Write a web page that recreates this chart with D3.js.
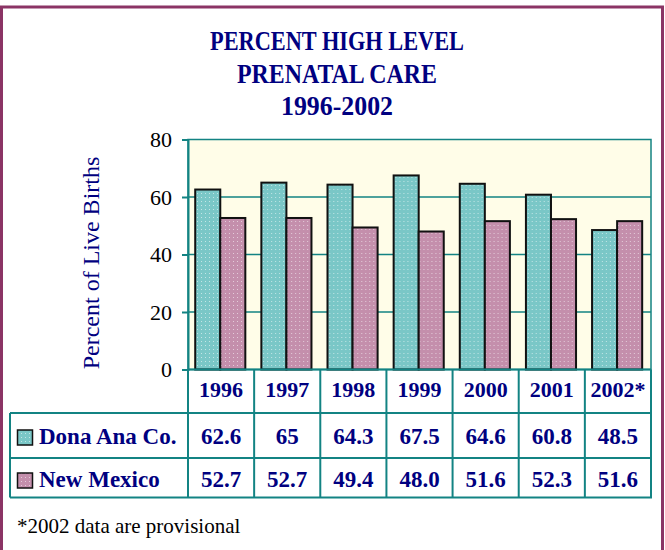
<!DOCTYPE html>
<html>
<head>
<meta charset="utf-8">
<script src="https://cdn.jsdelivr.net/npm/d3@7"></script>
<style>
  body { margin: 0; background: #fff; }
  svg { display: block; }
</style>
</head>
<body>
<svg id="chart" width="665" height="550"></svg>
<script>
// data
var years = ["1996", "1997", "1998", "1999", "2000", "2001", "2002*"];
var donaAna = [62.6, 65, 64.3, 67.5, 64.6, 60.8, 48.5];
var newMexico = [52.7, 52.7, 49.4, 48.0, 51.6, 52.3, 51.6];
var seriesNames = ["Dona Ana Co.", "New Mexico"];
var yTicks = [0, 20, 40, 60, 80];
var titleLines = ["PERCENT HIGH LEVEL", "PRENATAL CARE", "1996-2002"];

var navy = "#000080",
    teal = "#138383",
    frameColor = "#8B3465",
    fills = ["#7AC7C7", "#C48FAC"],
    serif = "'Liberation Serif', 'Times New Roman', serif";

var svg = d3.select("#chart");
var defs = svg.append("defs");

// dotted fills like the old powerpoint pattern
fills.forEach(function(c, i){
  var p = defs.append("pattern")
    .attr("id", "pat" + i)
    .attr("patternUnits", "userSpaceOnUse")
    .attr("width", 4).attr("height", 4);
  p.append("rect").attr("width", 4).attr("height", 4).attr("fill", c);
  p.append("rect").attr("x", 1).attr("y", 1).attr("width", 1).attr("height", 1)
    .attr("fill", "#fff").attr("opacity", 0.55);
});

// outer frame
svg.append("rect")
  .attr("x", 1.5).attr("y", 7)
  .attr("width", 661).attr("height", 570)
  .attr("fill", "#fff")
  .attr("stroke", frameColor)
  .attr("stroke-width", 3);

// title
var titleBase = [50, 83, 115],
    titleWidth = [254, 200, 112];
svg.selectAll(".title")
  .data(titleLines)
  .enter().append("text")
  .attr("class", "title")
  .attr("x", 337)
  .attr("y", function(d, i){ return titleBase[i]; })
  .attr("text-anchor", "middle")
  .attr("textLength", function(d, i){ return titleWidth[i]; })
  .attr("lengthAdjust", "spacingAndGlyphs")
  .style("font-family", serif)
  .style("font-weight", "bold")
  .style("font-size", "27px")
  .attr("fill", navy)
  .text(function(d){ return d; });

var plotL = 188, plotR = 651, plotT = 139.5, plotB = 369.5;

var x0 = d3.scaleBand().domain(years).range([plotL, plotR]);
var x1 = d3.scaleBand().domain(seriesNames).range([0, x0.bandwidth()])
  .paddingInner(0).paddingOuter(0.32).align(0.45);
var y = d3.scaleLinear().domain([0, 80]).range([plotB, plotT]);

// plot area
svg.append("rect")
  .attr("x", plotL).attr("y", plotT)
  .attr("width", plotR - plotL).attr("height", plotB - plotT)
  .attr("fill", "#FFFDE8")
  .attr("stroke", teal)
  .attr("stroke-width", 1.5);

svg.selectAll(".grid")
  .data(yTicks.slice(1, -1))
  .enter().append("line")
  .attr("x1", plotL).attr("x2", plotR)
  .attr("y1", function(d){ return y(d); })
  .attr("y2", function(d){ return y(d); })
  .attr("stroke", teal)
  .attr("stroke-width", 1.5);

// bars
var rows = years.map(function(yr, i){
  return { year: yr, vals: [donaAna[i], newMexico[i]] };
});

var groups = svg.selectAll(".grp")
  .data(rows)
  .enter().append("g")
  .attr("transform", function(d){ return "translate(" + x0(d.year) + ",0)"; });

groups.selectAll("rect")
  .data(function(d){ return d.vals.map(function(v, k){ return { k: k, v: v }; }); })
  .enter().append("rect")
  .attr("x", function(d){ return x1(seriesNames[d.k]); })
  .attr("y", function(d){ return y(d.v); })
  .attr("width", x1.bandwidth())
  .attr("height", function(d){ return y(0) - y(d.v); })
  .attr("fill", function(d){ return "url(#pat" + d.k + ")"; })
  .attr("stroke", "#111")
  .attr("stroke-width", 2);

// y axis
var yAxis = svg.append("g")
  .attr("transform", "translate(" + plotL + ",0)")
  .call(d3.axisLeft(y).tickValues(yTicks).tickSize(6).tickPadding(10));
yAxis.select(".domain").attr("stroke", teal).attr("stroke-width", 2);
yAxis.selectAll(".tick line").attr("stroke", teal).attr("stroke-width", 2);
yAxis.selectAll(".tick text")
  .style("font-family", serif)
  .style("font-size", "22px")
  .attr("fill", "#000");

svg.append("text")
  .attr("transform", "translate(99,263) rotate(-90)")
  .attr("text-anchor", "middle")
  .style("font-family", serif)
  .style("font-size", "24px")
  .attr("fill", navy)
  .text("Percent of Live Births");

// data table under the plot
var tableLeft = 10,
    rowLines = [plotB, 413, 458, 497.5];

var grid = svg.append("g")
  .attr("stroke", teal)
  .attr("stroke-width", 2);

grid.append("line")
  .attr("x1", plotL).attr("x2", plotR)
  .attr("y1", plotB).attr("y2", plotB);
rowLines.slice(1).forEach(function(ry){
  grid.append("line")
    .attr("x1", tableLeft).attr("x2", plotR + 1)
    .attr("y1", ry).attr("y2", ry);
});
grid.append("line")
  .attr("x1", tableLeft).attr("x2", tableLeft)
  .attr("y1", rowLines[1]).attr("y2", rowLines[3]);
years.forEach(function(yr){
  grid.append("line")
    .attr("x1", x0(yr)).attr("x2", x0(yr))
    .attr("y1", plotB).attr("y2", rowLines[3]);
});
grid.append("line")
  .attr("x1", plotR).attr("x2", plotR)
  .attr("y1", plotB).attr("y2", rowLines[3]);

svg.selectAll(".yr")
  .data(years)
  .enter().append("text")
  .attr("x", function(d){ return x0(d) + x0.bandwidth() / 2; })
  .attr("y", 397)
  .attr("text-anchor", "middle")
  .style("font-family", serif)
  .style("font-weight", "bold")
  .style("font-size", "22px")
  .attr("fill", navy)
  .text(function(d){ return d; });

var series = [
  { name: seriesNames[0], vals: donaAna, fmt: function(v){ return String(v); }, base: 444 },
  { name: seriesNames[1], vals: newMexico, fmt: function(v){ return v.toFixed(1); }, base: 487 }
];

series.forEach(function(s, i){
  svg.append("rect")
    .attr("x", 17.5).attr("y", s.base - 14)
    .attr("width", 15).attr("height", 15)
    .attr("fill", "url(#pat" + i + ")")
    .attr("stroke", "#111")
    .attr("stroke-width", 1.5);
  svg.append("text")
    .attr("x", 39).attr("y", s.base)
    .style("font-family", serif)
    .style("font-weight", "bold")
    .style("font-size", "23px")
    .attr("fill", navy)
    .text(s.name);
  svg.selectAll(".v" + i)
    .data(s.vals)
    .enter().append("text")
    .attr("x", function(d, j){ return x0(years[j]) + x0.bandwidth() / 2; })
    .attr("y", s.base)
    .attr("text-anchor", "middle")
    .style("font-family", serif)
    .style("font-weight", "bold")
    .style("font-size", "23px")
    .attr("fill", navy)
    .text(function(d){ return s.fmt(d); });
});

svg.append("text")
  .attr("x", 17).attr("y", 533)
  .style("font-family", serif)
  .style("font-size", "21px")
  .attr("fill", "#000")
  .text("*2002 data are provisional");
</script>
</body>
</html>
